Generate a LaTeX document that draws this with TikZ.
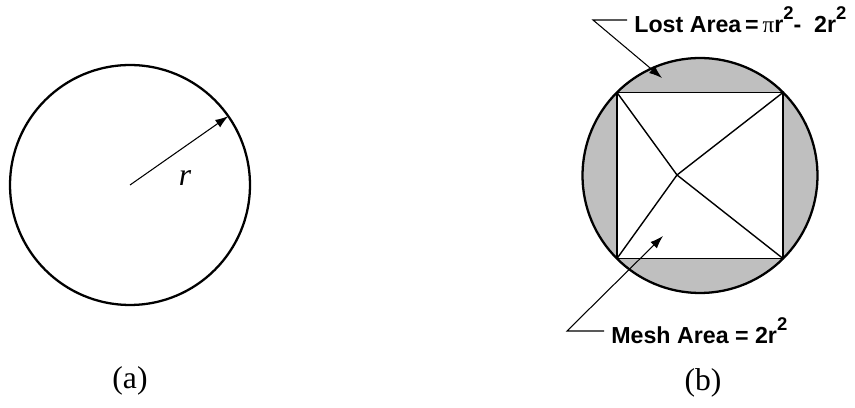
\documentclass[tikz,border=0pt]{standalone}
\usepackage{fontspec}
\setmainfont{Liberation Serif}
\newfontfamily\areafont{Liberation Sans}
\usetikzlibrary{arrows.meta, positioning, calc}
\newcommand{\sqr}{\raisebox{0.55em}{\fontsize{10.5}{10.5}\selectfont 2}}
\tikzset{
  disc/.style={circle, draw=black, line width=1.3pt, minimum size=#1, inner sep=0pt, outer sep=0pt},
  meshline/.style={line width=0.8pt},
  callout/.style={-{Latex[length=2.6mm, width=1.8mm]}, line width=0.6pt},
  arealabel/.style={anchor=west, inner sep=4pt, font=\areafont\bfseries\fontsize{13.2}{15}\selectfont},
  caption/.style={font=\fontsize{18}{21}\selectfont},
}
\begin{document}
\begin{tikzpicture}[x=0.02cm, y=-0.02cm]
  \useasboundingbox (0,0) rectangle (855,408);

  % (a) the plain circle
  \node[disc=4.8cm] (plain) at (130,185) {};
  \draw[callout] (plain.center) -- (plain.35);
  \node[caption, font=\fontsize{18}{21}\selectfont\itshape] (rad) at (185,178) {r};
  \node[caption] (capa) at (130,381) {(a)};

  % (b) the meshed circle
  \node[disc=4.7cm, fill=black!25] (mesh) at (700,175.5) {};
  \fill[white] (mesh.45) rectangle (mesh.225);
  \coordinate (hub) at (677,175);
  \draw[meshline] (mesh.45) -- (mesh.135) -- (mesh.225) -- (mesh.315) -- cycle;
  \foreach \c in {45,135,225,315} {
    \draw[meshline] (mesh.\c) -- (hub);
  }

  \node[arealabel] (lost) at (627,20) {Lost Area\,=\,{\rmfamily\mdseries π}r\sqr-\ \ 2r\sqr};
  \coordinate (lostbend) at (593,20);
  \coordinate (losttip) at (662,78);
  \draw[callout] (lost.west) -- (lostbend) -- (losttip);

  \node[arealabel] (area) at (604,331) {Mesh Area = 2r\sqr};
  \coordinate (meshbend) at (567,331);
  \coordinate (meshtip) at (663,236);
  \draw[callout] (area.west) -- (meshbend) -- (meshtip);

  \node[caption] (capb) at (703,383) {(b)};
\end{tikzpicture}
\end{document}
